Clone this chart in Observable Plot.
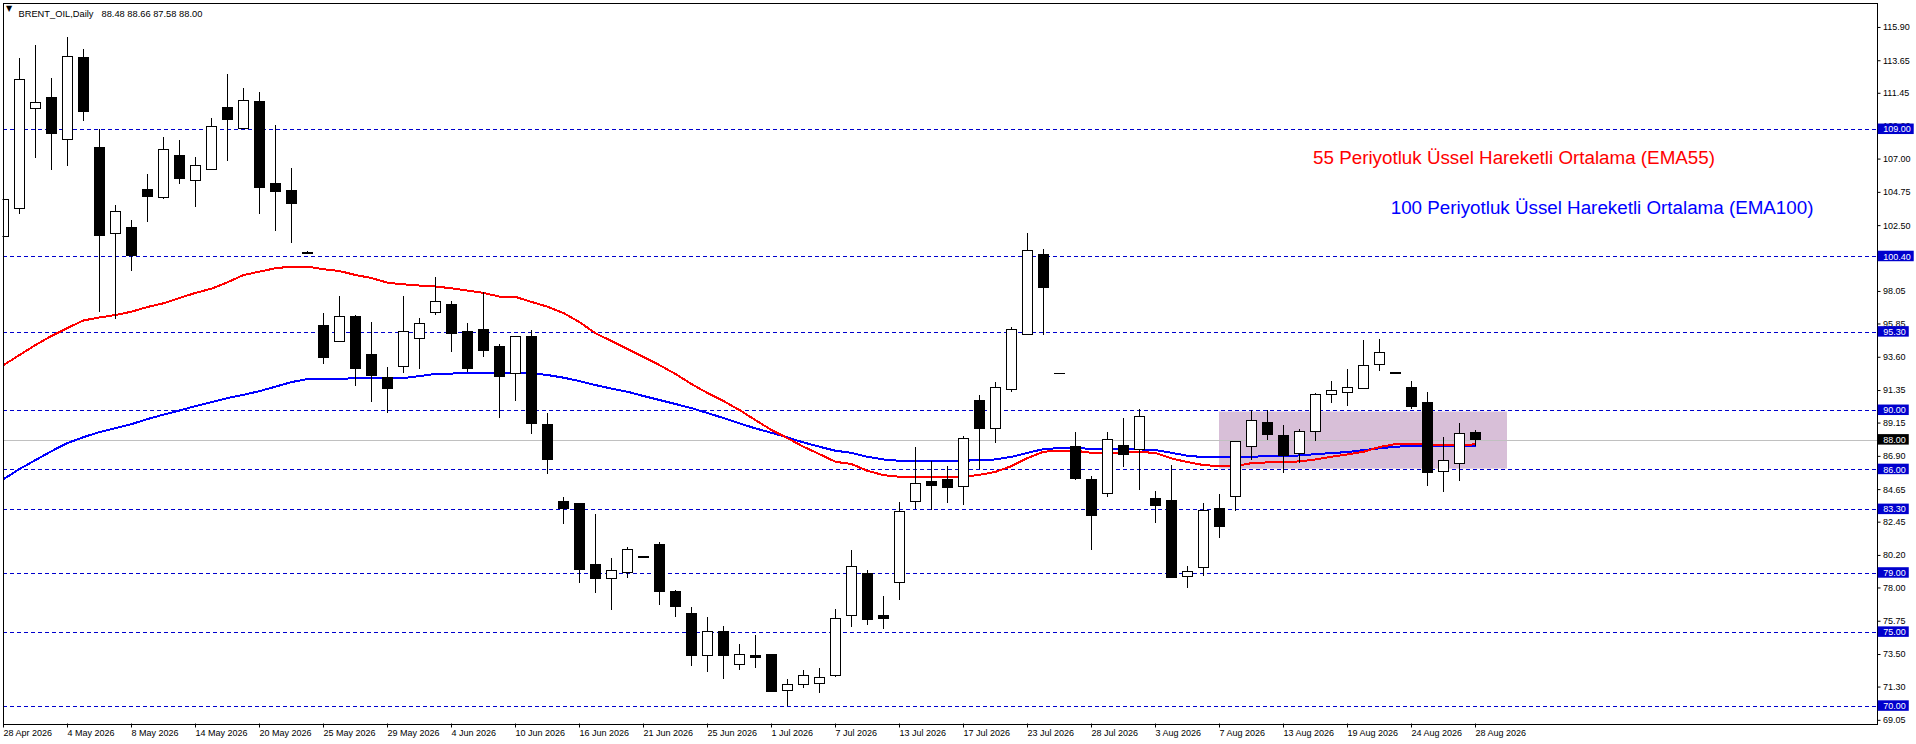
<!DOCTYPE html>
<html>
<head>
<meta charset="utf-8">
<script src="https://cdn.jsdelivr.net/npm/d3@7"></script>
<script src="https://cdn.jsdelivr.net/npm/@observablehq/plot@0.6"></script>
<style>
html,body{margin:0;padding:0;background:#fff;overflow:hidden}
svg{display:block}
</style>
</head>
<body>
<div id="chart"></div>
<script>
const open = [101.75,103.65,110.42,111.14,108.32,113.85,107.76,101.96,102.34,104.91,
104.39,107.22,105.54,106.29,110.46,109.06,110.87,105.32,104.85,100.64,
95.71,94.65,96.32,93.75,92.19,92.96,94.85,96.61,97.13,95.31,
95.44,94.29,92.49,94.97,89.01,83.80,83.67,79.54,78.62,79.02,
80.08,80.90,77.72,76.23,73.41,75.01,72.80,73.39,73.45,71.04,
71.44,71.51,72.05,76.11,78.93,76.09,78.34,83.80,85.16,85.29,
84.80,90.64,88.76,91.40,95.12,100.52,92.49,87.53,85.29,84.35,
87.59,87.30,84.01,83.87,78.73,79.32,83.31,84.16,87.55,89.15,
88.27,87.07,88.56,91.06,91.20,91.47,93.09,92.49,91.52,90.50,
85.85,86.40,88.48];
const high = [105.77,113.78,114.66,112.42,115.20,114.39,109.02,103.83,102.88,105.93,
108.43,108.23,107.08,109.72,112.70,111.75,111.48,109.24,106.34,100.77,
96.59,97.74,96.39,95.92,92.94,97.74,96.25,98.96,97.40,95.85,
98.01,94.43,94.97,95.44,89.83,84.14,83.74,82.99,80.02,80.76,
80.15,81.10,77.85,76.70,76.02,75.42,74.20,74.81,73.45,71.83,
72.44,72.57,76.56,80.56,79.20,77.44,83.80,87.53,86.58,86.24,
88.27,91.04,91.92,95.58,101.97,100.92,92.53,88.54,85.56,88.54,
89.49,90.10,84.55,86.31,79.47,83.74,84.35,87.86,90.03,90.03,
89.01,88.74,91.18,91.99,92.80,94.70,94.83,92.60,91.99,91.25,
88.20,89.15,88.66];
const low = [101.62,103.22,107.01,106.20,106.47,109.52,96.66,96.12,99.43,102.68,
104.24,105.25,103.76,106.20,106.81,109.02,103.22,102.07,101.26,100.58,
93.14,94.65,91.65,90.57,89.83,92.47,92.74,96.39,93.89,92.60,
93.55,89.49,90.64,88.41,85.70,82.32,78.32,77.65,76.50,78.66,
80.02,76.84,76.02,72.71,72.30,71.83,72.44,72.57,70.95,70.00,
71.22,70.88,71.96,75.35,75.48,75.21,77.17,83.33,83.26,83.74,
83.60,86.04,87.80,91.25,95.04,95.04,92.42,85.29,80.56,84.14,
86.17,84.62,82.38,78.66,77.99,78.80,81.37,83.20,86.65,88.00,
85.77,86.44,87.93,90.50,90.30,91.45,92.67,92.49,90.10,84.89,
84.48,85.23,87.58];
const close = [104.22,112.34,110.78,108.70,113.89,110.19,101.80,103.41,100.45,104.44,
107.60,105.66,106.52,109.16,109.65,110.92,105.05,104.78,103.97,100.60,
93.55,96.30,92.80,92.33,91.45,95.29,95.83,97.32,95.17,92.80,
94.02,92.26,94.95,89.08,86.65,83.33,79.20,78.59,79.12,80.54,
80.04,77.72,76.70,73.39,74.99,73.39,73.50,73.25,70.95,71.47,
72.08,71.94,75.87,79.39,75.82,75.89,83.11,85.00,84.89,84.75,
88.05,88.74,91.50,95.42,100.81,98.28,92.45,85.36,82.86,87.98,
86.98,89.54,83.53,78.66,79.07,83.18,82.11,87.84,89.27,88.34,
86.92,88.52,91.02,91.29,91.50,92.99,93.87,92.53,90.23,85.77,
86.56,88.39,88.00];
const ema55 = [93.07,93.75,94.43,95.04,95.58,96.09,96.29,96.46,96.68,97.00,
97.25,97.61,97.95,98.24,98.67,99.16,99.39,99.62,99.73,99.73,
99.55,99.43,99.16,98.96,98.64,98.53,98.45,98.39,98.26,98.11,
97.95,97.70,97.68,97.34,97.02,96.59,95.98,95.22,94.70,94.16,
93.62,93.07,92.47,91.79,91.18,90.64,90.03,89.35,88.68,88.13,
87.55,87.05,86.53,86.38,85.92,85.63,85.52,85.52,85.52,85.52,
85.52,85.65,85.85,86.24,86.78,87.21,87.28,87.28,87.14,87.14,
87.14,87.21,87.12,86.76,86.51,86.31,86.24,86.24,86.44,86.49,
86.51,86.56,86.69,86.87,87.03,87.21,87.53,87.73,87.73,87.70,
87.66,87.66,87.71];
const ema100 = [85.36,86.04,86.65,87.25,87.80,88.20,88.54,88.81,89.08,89.42,
89.72,90.00,90.30,90.57,90.84,91.06,91.31,91.61,91.92,92.13,
92.13,92.13,92.19,92.19,92.19,92.19,92.33,92.47,92.50,92.51,
92.53,92.53,92.53,92.51,92.40,92.22,91.99,91.72,91.48,91.27,
90.98,90.71,90.44,90.16,89.83,89.49,89.13,88.79,88.49,88.18,
87.84,87.55,87.28,87.14,86.87,86.69,86.60,86.60,86.60,86.60,
86.60,86.65,86.69,86.87,87.14,87.39,87.46,87.46,87.41,87.41,
87.41,87.37,87.32,87.14,86.94,86.85,86.85,86.85,86.87,86.92,
86.92,86.96,87.05,87.12,87.19,87.32,87.44,87.55,87.61,87.61,
87.61,87.61,87.61];
const dateLabels = ["28 Apr 2026","4 May 2026","8 May 2026","14 May 2026","20 May 2026","25 May 2026",
"29 May 2026","4 Jun 2026","10 Jun 2026","16 Jun 2026","21 Jun 2026","25 Jun 2026","1 Jul 2026",
"7 Jul 2026","13 Jul 2026","17 Jul 2026","23 Jul 2026","28 Jul 2026","3 Aug 2026","7 Aug 2026",
"13 Aug 2026","19 Aug 2026","24 Aug 2026","28 Aug 2026"];
const barsPerLabel = 4;
const priceTicks = [115.90,113.65,111.45,109.20,107.00,104.75,102.50,100.30,98.05,95.85,93.60,91.35,
89.15,86.90,84.65,82.45,80.20,78.00,75.75,73.50,71.30,69.05];
const levels = [109.00,100.40,95.30,90.00,86.00,83.30,79.00,75.00,70.00];
const lastPrice = 88.00;
const zone = {from:76, to:94, top:89.9, bottom:86.04};
const titleName = "BRENT_OIL,Daily";
const titleValues = "88.48 88.66 87.58 88.00";
const notes = [
  {text:"55 Periyotluk Üssel Hareketli Ortalama (EMA55)", i:81.85, p:107.05, color:"#ff0000"},
  {text:"100 Periyotluk Üssel Hareketli Ortalama (EMA100)", i:86.7, p:103.7, color:"#0000ff"}
];

const FONT = "'Liberation Sans', Arial, sans-serif";
const bars = d3.range(open.length);
const up = bars.filter(i => close[i] > open[i]);
const down = bars.filter(i => close[i] <= open[i]);
const half = 5/16;
const axisX1 = 117.17;
const labelX = 117.48;
const fmt = d => d.toFixed(2);
const badgeEnd = p => p >= 100 ? 119.42 : 119.11;

const chart = Plot.plot({
  width:1916, height:744,
  marginLeft:2.5, marginRight:39.5, marginTop:2.5, marginBottom:20.5,
  style:{fontFamily:FONT, background:"#fff", color:"#000", overflow:"visible"},
  x:{type:"linear", domain:[-0.03125,117.09375], axis:null},
  y:{type:"linear", domain:[68.802,117.554], axis:null},
  marks:[
    Plot.rect([zone],{x1:"from",x2:"to",y1:"top",y2:"bottom",fill:"#d8bfd8"}),
    Plot.ruleY([lastPrice],{stroke:"#c0c0c0",strokeWidth:1,shapeRendering:"crispEdges"}),
    Plot.ruleY(levels,{stroke:"#0000cd",strokeWidth:1,strokeDasharray:"4 3",shapeRendering:"crispEdges"}),
    Plot.line(bars,{x:i=>i,y:i=>ema100[i],stroke:"#0000ff",strokeWidth:2,curve:"linear",clip:true,shapeRendering:"crispEdges"}),
    Plot.line(bars,{x:i=>i,y:i=>ema55[i],stroke:"#ff0000",strokeWidth:2,curve:"linear",clip:true,shapeRendering:"crispEdges"}),
    Plot.ruleX(bars,{x:i=>i,y1:i=>low[i],y2:i=>high[i],stroke:"#000",strokeWidth:1,clip:true,shapeRendering:"crispEdges"}),
    Plot.rect(up,{x1:i=>i-half,x2:i=>i+half,y1:i=>open[i],y2:i=>close[i],dx:0.5,fill:"#fff",stroke:"#000",strokeWidth:1,clip:true,shapeRendering:"crispEdges"}),
    Plot.rect(down,{x1:i=>i-half,x2:i=>i+half,y1:i=>open[i],y2:i=>close[i],dx:0.5,fill:"#000",stroke:"#000",strokeWidth:1,clip:true,shapeRendering:"crispEdges"}),
    Plot.text(notes,{x:"i",y:"p",text:"text",fill:"color",textAnchor:"start",fontSize:18.8,fontFamily:FONT}),
    Plot.text(["▼"],{frameAnchor:"top-left",dx:3,dy:2,fontSize:8,fill:"#000",textAnchor:"start",fontFamily:"'DejaVu Sans'"}),
    Plot.text([titleName],{frameAnchor:"top-left",dx:15.5,dy:7.5,fontSize:9.3,fill:"#000",textAnchor:"start"}),
    Plot.text([titleValues],{frameAnchor:"top-left",dx:98.5,dy:7.5,fontSize:9.3,fill:"#000",textAnchor:"start"}),
    Plot.frame({stroke:"#000",strokeWidth:1,shapeRendering:"crispEdges"}),
    Plot.axisY({anchor:"right",ticks:priceTicks,tickFormat:fmt,tickSize:3,tickPadding:3,label:null,fontSize:9,textAnchor:"start",fill:"#000",stroke:"#000"}),
    Plot.axisX({anchor:"bottom",ticks:dateLabels.map((_,k)=>k*barsPerLabel),tickFormat:i=>dateLabels[i/barsPerLabel],tickSize:4,tickPadding:2,label:null,fontSize:9,textAnchor:"start",fill:"#000",stroke:"#000"}),
    Plot.rect(levels,{x1:axisX1,x2:p=>badgeEnd(p),y1:p=>p+0.37,y2:p=>p-0.34,fill:"#0000cd"}),
    Plot.text(levels,{x:labelX,y:p=>p,text:fmt,fill:"#fff",fontSize:9,textAnchor:"start"}),
    Plot.rect([lastPrice],{x1:axisX1,x2:p=>badgeEnd(p),y1:p=>p+0.37,y2:p=>p-0.34,fill:"#000"}),
    Plot.text([lastPrice],{x:labelX,y:p=>p,text:fmt,fill:"#fff",fontSize:9,textAnchor:"start"})
  ]
});
document.getElementById("chart").appendChild(chart);
</script>
</body>
</html>
